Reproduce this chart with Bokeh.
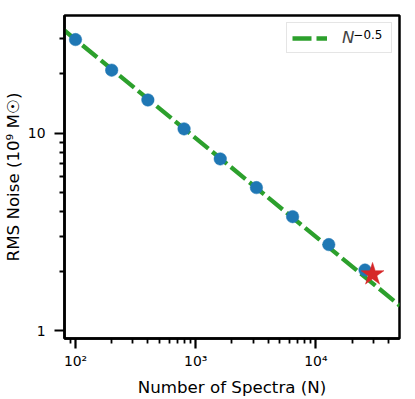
from bokeh.plotting import figure
from bokeh.models import FixedTicker, Legend, LegendItem, Label, Range1d
from bokeh.embed import file_html
from bokeh.resources import INLINE

# ---- data ----
n_spectra = [100, 200, 400, 800, 1600, 3200, 6400, 12800, 25600]
rms_noise = [29.7, 20.8, 14.7, 10.5, 7.4, 5.3, 3.78, 2.73, 2.03]
star_n = [29600]
star_rms = [1.93]
model_n = [80, 50000]
model_rms = [33.2, 1.34]

x_major = [100, 1000, 10000]
x_labels = {100: "10²", 1000: "10³", 10000: "10⁴"}
x_minor = [80, 90, 200, 300, 400, 500, 600, 700, 800, 900,
           2000, 3000, 4000, 5000, 6000, 7000, 8000, 9000,
           20000, 30000, 40000]
y_major = [1, 10]
y_labels = {1: "1", 10: "10"}
y_minor = [2, 3, 4, 5, 6, 7, 8, 9, 20, 30]

FONT = "DejaVu Sans"

p = figure(x_axis_type="log", y_axis_type="log",
           x_range=Range1d(81, 49600), y_range=Range1d(0.915, 39.3),
           width=415, height=399,
           min_border_left=64, min_border_top=15, min_border_right=16, min_border_bottom=59,
           output_backend="svg", toolbar_location=None,
           background_fill_color="white", border_fill_color="white")

p.xgrid.visible = False
p.ygrid.visible = False
p.outline_line_color = "black"
p.outline_line_width = 2.5
p.outline_line_alpha = 1.0

p.xaxis.ticker = FixedTicker(ticks=x_major, minor_ticks=x_minor)
p.yaxis.ticker = FixedTicker(ticks=y_major, minor_ticks=y_minor)
p.xaxis.major_label_overrides = x_labels
p.yaxis.major_label_overrides = y_labels

for ax in (p.xaxis[0], p.yaxis[0]):
    ax.axis_line_color = "black"
    ax.axis_line_width = 2.5
    ax.major_tick_line_color = "black"
    ax.major_tick_line_width = 2.2
    ax.minor_tick_line_color = "black"
    ax.minor_tick_line_width = 1.8
    ax.major_tick_in = 0
    ax.major_tick_out = 10
    ax.minor_tick_in = 0
    ax.minor_tick_out = 5
    ax.major_label_text_font = FONT
    ax.major_label_text_font_size = "13.9px"
    ax.major_label_text_color = "black"
    ax.axis_label_text_font = FONT
    ax.axis_label_text_font_size = "16.67px"
    ax.axis_label_text_font_style = "normal"
    ax.axis_label_text_color = "black"

p.xaxis.axis_label = "Number of Spectra (N)"
p.yaxis.axis_label = "RMS Noise (10⁹ M☉)"
p.xaxis.major_label_standoff = 4
p.xaxis.axis_label_standoff = 6
p.yaxis.major_label_standoff = 9
p.yaxis.axis_label_standoff = 2

r_line = p.line(model_n, model_rms, line_color="#2ca02c", line_width=4.3, line_dash="19 5")
p.scatter(n_spectra, rms_noise, marker="circle", size=12.5,
          fill_color="#1f77b4", line_color="#1f77b4", line_width=0.5)
p.scatter(star_n, star_rms, marker="star", size=24,
          fill_color="#d62728", line_color="#d62728", line_width=0.5)

legend = Legend(items=[LegendItem(label="N", renderers=[r_line])],
                location="top_right", margin=7, padding=5,
                glyph_width=35, glyph_height=18, label_standoff=15, label_width=44,
                label_text_font=FONT, label_text_font_size="16.67px",
                label_text_font_style="italic",
                border_line_color="#cccccc", border_line_width=1,
                background_fill_alpha=0.0)
p.add_layout(legend)

p.add_layout(Label(x=289, y=304, x_units="screen", y_units="screen",
                   text="−0.5", text_font=FONT, text_font_size="11.9px",
                   text_baseline="alphabetic", text_color="black", level="overlay"))

open("out.html", "w").write(file_html(p, INLINE))
